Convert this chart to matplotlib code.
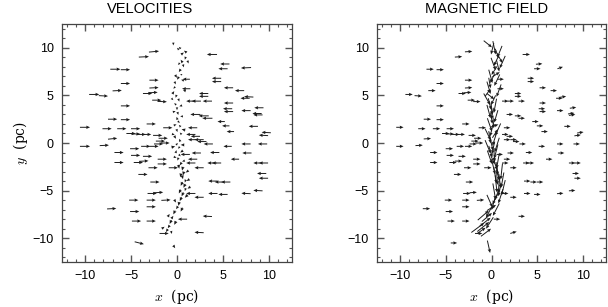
import matplotlib
matplotlib.use("Agg")
import matplotlib.pyplot as plt
from matplotlib.ticker import MultipleLocator

# positions (pc) of the clumps away from the filament
x_out = [-2.5, -3.6, 3.8, -6.7, -5.6, 5.2, 5.0, 7.5, -2.5, -5.6, -2.5, 4.3, 4.3, 1.0, 5.6, 6.8,
         -6.5, -9.0, -8.0, -3.2, -2.6, 1.0, 2.9, 2.9, 7.8, 7.4, -2.2, -1.6, 1.5, 2.1, 3.3, 5.6,
         8.9, -5.6, 5.5, 5.6, 7.5, 8.7, 8.8, 2.0, 2.9, 3.3, -7.0, -5.6, -2.8, 4.8, 5.3, 1.7,
         -1.0, -10.0, -7.6, -6.0, -4.5, 8.3, 5.8, 9.7, 9.4, -7.0, -5.0, -4.5, -3.9, -3.3, -2.1,
         -1.5, -1.8, -1.3, -2.0, 1.5, 2.0, 1.7, 2.4, 2.7, 3.4, 7.5, 9.3, -10.0, -7.9, -4.6,
         -3.4, -2.5, 5.5, -6.3, -4.5, -3.2, 0.9, 2.1, 4.1, 7.6, -1.6, 1.7, 6.3, -6.3, -4.2,
         -3.6, -1.6, 1.5, 3.8, 4.3, 8.8, 9.4, -2.6, -0.4, 2.4, 9.2, 9.4, -3.7, 3.9, 4.6, 5.3,
         -2.4, -2.7, -2.0, 3.9, 5.0, 7.5, 8.8, 1.5, -4.7, -2.8, -1.2, 2.4, -2.8, -7.1, -4.6,
         3.3, 0.6, -4.4, -2.8, 2.4, -1.4, -4.1]
y_out = [9.6, 9.05, 9.3, 7.75, 7.7, 8.3, 7.8, 7.9, 6.6, 6.25, 5.8, 6.8, 6.45, 6.7, 5.8, 5.5,
         5.5, 5.1, 4.95, 5.2, 5.3, 5.7, 5.2, 4.9, 4.85, 4.7, 4.5, 4.35, 4.4, 4.4, 4.4, 4.2,
         3.7, 3.9, 3.6, 3.3, 3.4, 3.1, 2.95, 3.0, 2.85, 2.6, 2.5, 2.45, 2.0, 2.25, 1.8, 1.6,
         1.6, 1.65, 1.5, 1.5, 1.5, 1.75, 1.2, 1.1, 0.8, 0.45, 1.0, 0.95, 0.9, 0.9, 0.8,
         0.5, 0.2, 0.0, -0.1, 0.9, 0.7, 0.35, 0.35, 0.15, -0.1, -0.1, -0.1, -0.35, -0.25, -0.6,
         -0.35, -0.35, -0.35, -1.0, -1.3, -1.4, -1.2, -1.05, -1.0, -1.05, -1.7, -1.7, -1.7, -2.05, -2.05,
         -1.9, -2.2, -2.1, -2.1, -2.1, -2.1, -2.1, -2.6, -2.6, -2.6, -3.2, -3.7, -3.3, -4.0, -4.1, -4.1,
         -4.1, -5.3, -5.2, -5.3, -5.4, -5.3, -5.0, -5.3, -6.0, -6.0, -6.0, -5.7, -6.7, -6.9, -7.2,
         -7.7, -8.0, -8.2, -8.2, -9.4, -9.5, -10.5]
vx_out = [1.1, 1.1, -1.1, 1.1, 1.0, -1.0, -1.0, -1.1, 1.0, 1.0, 1.0, -1.0, -1.0, -0.8, -1.0, -1.0,
          1.0, 1.1, 1.0, 1.0, 1.0, -0.9, -1.0, -1.0, -1.0, -1.0, 1.0, 1.0, -1.0, -1.0, -1.0, -1.0,
          -1.0, 1.0, -1.0, -1.0, -1.0, -1.0, -1.0, -1.1, -1.1, -1.1, 1.0, 1.0, 1.0, -0.8, -0.8, -1.0,
          1.0, 1.1, 1.0, 1.0, 1.0, -1.0, -0.8, -1.0, -1.0, 1.0, 1.0, 1.0, 1.0, 1.0, 1.0,
          1.0, 1.0, 1.0, 1.0, -1.0, -1.0, -1.0, -1.0, -1.0, -1.0, -1.0, -1.0, 1.1, 1.0, 1.0,
          1.0, 1.0, -0.9, 1.0, 1.0, 1.0, -1.0, -1.0, -1.0, -1.0, 1.0, -1.0, -0.9, 1.0, 1.0,
          1.0, 1.0, -1.0, -1.0, -1.0, -1.0, -1.0, 1.0, 1.0, -1.0, -1.0, -1.0, 1.0, -1.0, -1.0, -1.0,
          1.0, 1.0, 1.0, -1.0, -1.0, -1.0, -1.0, -1.0, 1.0, 1.0, 1.0, -1.0, 1.0, 1.0, 1.0,
          -1.0, -1.0, 1.0, 1.0, -1.0, 1.0, 1.0]
vy_out = [0.1, 0.05, 0.0, 0.0, 0.0, 0.0, 0.0, -0.05, 0.0, 0.0, 0.05, 0.0, 0.0, 0.0, 0.0, 0.0,
          0.05, 0.0, -0.05, 0.0, 0.05, 0.0, 0.0, 0.0, 0.05, 0.0, 0.0, -0.05, 0.0, 0.0, 0.0, 0.0,
          0.0, 0.0, 0.0, 0.0, 0.0, 0.0, 0.0, 0.0, 0.0, 0.0, 0.0, 0.0, 0.0, 0.0, 0.0, 0.0,
          0.0, 0.0, 0.0, 0.0, 0.0, 0.0, 0.0, 0.05, 0.05, 0.1, 0.0, 0.0, 0.0, 0.0, 0.0,
          0.0, 0.0, 0.0, 0.0, 0.0, 0.0, 0.0, 0.0, 0.0, 0.0, 0.0, 0.0, 0.0, 0.05, 0.0,
          0.0, 0.0, 0.0, 0.0, 0.0, 0.0, 0.0, 0.0, 0.0, 0.0, 0.0, 0.0, 0.0, 0.0, 0.0,
          0.05, 0.0, 0.0, 0.0, 0.0, 0.0, 0.0, 0.0, 0.0, 0.0, 0.0, 0.0, 0.0, 0.0, 0.0, 0.0,
          0.0, 0.0, 0.05, 0.0, 0.0, 0.05, 0.05, 0.0, 0.0, 0.0, 0.05, 0.0, 0.0, 0.05, 0.0,
          0.05, 0.0, 0.0, 0.0, 0.05, 0.0, -0.25]
bx_out = [0.8, 0.8, 0.8, 0.8, 0.8, 0.7, 0.7, 0.6, 0.8, 0.8, 0.8, 0.7, 0.7, 0.7, 0.7, 0.7,
          0.8, 0.8, 0.8, 0.8, 0.8, 0.7, 0.7, 0.7, 0.7, 0.7, 0.8, 0.8, 0.7, 0.7, 0.7, 0.7,
          0.7, 0.8, 0.7, 0.7, 0.7, 0.7, 0.7, 0.7, 0.7, 0.7, 0.8, 0.8, 0.8, 0.7, 0.7, 0.7,
          0.8, 0.8, 0.8, 0.8, 0.8, 0.7, 0.7, 0.7, 0.7, 0.8, 0.8, 0.8, 0.8, 0.8, 0.8,
          0.8, 0.8, 0.8, 0.8, 0.7, 0.7, 0.7, 0.7, 0.7, 0.7, 0.7, 0.7, 0.8, 0.8, 0.8,
          0.8, 0.8, 0.7, 0.8, 0.8, 0.8, 0.7, 0.7, 0.7, 0.7, 0.8, 0.7, 0.7, 0.8, 0.8,
          0.8, 0.8, 0.7, 0.7, 0.7, 0.7, 0.7, 0.8, 0.8, 0.7, 0.7, 0.7, 0.8, 0.7, 0.7, 0.7,
          0.8, 0.8, 0.8, 0.7, 0.7, 0.7, 0.7, 0.7, 0.8, 0.8, 0.8, 0.7, 0.8, 0.8, 0.8,
          0.7, 0.7, 0.8, 0.8, 0.7, 0.8, 0.7]
by_out = [0.05, 0.05, 0.0, 0.0, 0.0, 0.05, 0.0, 0.2, 0.0, 0.0, 0.05, 0.0, 0.0, 0.0, 0.0, 0.0,
          0.0, 0.0, -0.05, 0.0, 0.05, 0.0, 0.0, 0.0, 0.1, 0.0, 0.0, 0.0, 0.0, 0.0, 0.0, 0.0,
          0.1, 0.0, 0.0, 0.0, 0.0, 0.1, 0.1, 0.0, 0.0, 0.0, 0.0, 0.0, 0.0, 0.0, 0.0, 0.0,
          0.0, 0.0, 0.0, 0.0, 0.0, 0.0, 0.0, 0.1, 0.1, 0.05, 0.0, 0.0, 0.0, 0.0, 0.0,
          0.0, 0.0, 0.0, 0.0, 0.0, 0.0, 0.0, 0.0, 0.0, 0.0, 0.0, 0.0, 0.0, 0.05, 0.0,
          0.0, 0.0, 0.0, 0.0, 0.0, 0.0, 0.0, 0.0, 0.0, 0.0, 0.0, 0.0, 0.0, 0.0, 0.0,
          0.0, 0.0, 0.0, 0.0, 0.0, 0.0, 0.0, 0.0, 0.0, 0.0, 0.0, 0.0, 0.0, 0.0, 0.0, 0.0,
          0.0, 0.0, 0.05, 0.0, 0.0, 0.05, 0.05, 0.0, 0.0, 0.0, 0.05, 0.0, 0.0, 0.0, 0.0,
          0.0, 0.0, 0.0, 0.0, 0.2, 0.0, 0.0]

# clumps along the central filament
x_fil = [-0.4, 0.1, 0.6, 0.9, 0.5, 0.7, 0.3, 0.5, 0.1, -0.2, -0.3, -0.4, -0.1, 0.2, -0.2, 0.0,
         0.1, 0.0, 0.2, 0.3, 0.0, 0.4, -0.2, 0.3, 0.0, 0.2, -0.1, 0.3, 0.1, 0.4, 0.6, 0.7,
         0.6, 0.9, 0.8, 0.9, 0.6, 0.4, 0.2, 0.0, -0.3, -0.5, -0.7, -0.9, -1.1, -0.3,
         0.3, 0.9, 1.2, 0.2, -0.1, 0.6, 0.8, -0.5, 0.4, -0.3, 0.5, -0.2, 0.7, -0.4, 0.6, -0.4,
         0.5, -0.2, 0.7, 0.2, 1.1, 0.4, 1.2, 0.5, 1.3, 0.3, 1.0, -0.2, 0.5, -0.9, -0.2, -1.5, -0.6]
y_fil = [10.4, 9.9, 9.4, 8.9, 8.6, 8.1, 7.6, 7.2, 6.8, 6.3, 5.8, 5.3, 4.9, 4.5, 4.1, 3.6,
         3.1, 2.6, 2.2, 1.8, 1.3, 1.0, 0.6, 0.3, -0.1, -0.5, -0.9, -1.3, -1.7, -2.2, -2.7, -3.2,
         -3.6, -4.0, -4.5, -4.9, -5.4, -5.9, -6.4, -6.8, -7.3, -7.8, -8.3, -8.8, -9.2, -10.9,
         10.0, 9.6, 8.5, 8.3, 7.0, 6.6, 5.5, 4.6, 3.9, 3.3, 2.8, 1.9, 1.4, 0.9, -0.2, -0.4,
         -0.9, -1.5, -1.9, -2.5, -3.0, -3.4, -3.9, -4.3, -4.7, -5.1, -5.6, -6.1, -7.0, -7.6, -8.4, -8.9, -9.4]
vx_fil = [0.0, -0.2, 0.3, -0.1, -0.2, 0.1, -0.2, 0.2, -0.2, 0.1, -0.2, 0.2, -0.1, 0.1, -0.2, 0.0,
          0.1, -0.1, 0.2, -0.2, 0.1, -0.2, 0.2, -0.1, 0.2, -0.2, 0.1, 0.2, -0.1, -0.2, -0.1, -0.1,
          0.1, -0.1, -0.2, -0.1, -0.2, -0.2, -0.1, -0.2, -0.2, 0.2, -0.2, -0.2, -0.2, 0.2,
          -0.2, -0.3, 0.1, -0.2, 0.2, -0.3, -0.3, 0.2, -0.3, 0.3, -0.3, 0.3, -0.4, 0.3, -0.4, 0.4,
          -0.3, 0.3, -0.3, 0.1, -0.3, -0.1, -0.3, -0.2, -0.3, -0.2, -0.3, 0.2, -0.2, 0.2, -0.2, 0.3, 0.1]
vy_fil = [-0.3, 0.2, 0.2, -0.3, 0.3, -0.3, -0.3, 0.1, -0.3, -0.3, -0.2, 0.3, -0.3, -0.3, 0.2, -0.3,
          -0.3, 0.3, -0.2, 0.2, -0.3, 0.2, -0.3, 0.3, 0.2, -0.2, 0.3, -0.2, -0.3, -0.3, -0.4, -0.4,
          -0.4, -0.3, -0.4, -0.3, -0.4, -0.4, -0.4, -0.3, -0.4, 0.3, -0.4, -0.3, -0.3, -0.3,
          0.2, 0.2, -0.3, -0.2, -0.3, 0.1, 0.1, -0.2, -0.1, 0.1, 0.0, 0.1, 0.1, -0.1, 0.0, 0.1,
          -0.2, -0.1, -0.1, -0.4, -0.2, -0.4, -0.2, -0.4, -0.2, -0.4, -0.3, -0.3, -0.4, 0.3, -0.4, 0.2, -0.3]
bx_fil = [0.9, -0.3, 0.4, 0.6, -0.5, 0.3, -0.6, 0.8, -0.5, 0.2, 0.4, 0.6, 0.8, -0.5, 0.3, 0.1,
          -0.2, 0.2, 0.1, 0.9, -0.3, 0.6, 0.2, -0.4, 0.3, -0.3, 0.4, 0.1, 0.5, 0.4, 0.2, 0.3,
          0.1, 0.2, -0.1, -0.3, -0.5, -0.6, -0.4, 1.0, -0.6, 1.1, 1.2, 1.3, 0.9, 0.3,
          0.3, -0.5, -0.6, 0.5, 0.4, -0.6, -0.5, 0.7, -0.3, 0.4, -0.4, 0.5, -0.6, 0.6, -0.5, 0.6,
          -0.4, 0.5, -0.3, 0.4, -0.2, 0.3, -0.3, 0.2, -0.4, 0.3, -0.5, 0.6, -0.7, 1.2, -0.8, 1.4, 1.1]
by_fil = [-0.7, -1.2, -1.0, -1.0, -1.0, -1.2, -0.9, 0.5, -1.0, -1.1, -1.3, 0.8, -0.6, -1.0, -1.2, -1.3,
          -1.2, -1.2, -1.3, 0.3, -1.2, 0.9, -1.3, -1.2, -1.4, -1.3, -1.2, -1.4, -1.1, -1.3, -1.4, -1.5,
          -1.6, -1.5, -1.6, -1.4, -1.2, -1.1, -1.3, 0.6, -1.1, 0.9, 0.9, 1.0, 0.6, -1.3,
          -1.4, -1.2, -1.3, -1.3, -1.4, -1.2, -1.3, -1.2, -1.5, -1.4, -1.3, -1.4, -1.3, -1.2, -1.5, -1.4,
          -1.5, -1.4, -1.6, -1.6, -1.7, -1.7, -1.6, -1.8, -1.6, -1.7, -1.5, -1.3, -1.3, 1.0, -1.2, 1.0, 0.8]

titles = ["VELOCITIES", "MAGNETIC FIELD"]
ticks = [-10, -5, 0, 5, 10]

plt.rcParams["mathtext.fontset"] = "cm"

fig = plt.figure(figsize=(6.08, 3.07), dpi=100)
ax1 = fig.add_axes([62/608, 45/307, 230/608, 238/307])
ax2 = fig.add_axes([377/608, 45/307, 229/608, 238/307])

qkw = dict(angles="xy", scale_units="xy", scale=1, pivot="mid", width=0.0042,
           headwidth=3.5, headlength=4, headaxislength=3.6, color="#1a1a1a")

ax1.quiver(x_out, y_out, vx_out, vy_out, **qkw)
ax1.quiver(x_fil, y_fil, vx_fil, vy_fil, **qkw)
ax2.quiver(x_out, y_out, bx_out, by_out, **qkw)
ax2.quiver(x_fil, y_fil, bx_fil, by_fil, **qkw)

for ax in (ax1, ax2):
    ax.set_xlim(-12.5, 12.5)
    ax.set_ylim(-12.5, 12.5)
    ax.set_xticks(ticks)
    ax.set_yticks(ticks)
    ax.xaxis.set_minor_locator(MultipleLocator(1))
    ax.yaxis.set_minor_locator(MultipleLocator(1))
    ax.tick_params(which="both", direction="in", top=True, right=True, color="#555555",
                   labelsize=9, pad=6)
    ax.tick_params(which="major", length=5, width=1)
    ax.tick_params(which="minor", length=2.5, width=0.8)
    for s in ax.spines.values():
        s.set_color("#444444")
        s.set_linewidth(0.9)
    for lab in ax.get_xticklabels() + ax.get_yticklabels():
        lab.set_family("Liberation Sans")
    ax.set_xlabel(r"$x$  (pc)", family="DejaVu Serif", fontsize=10, labelpad=3)
    ax.set_ylabel(r"$y$  (pc)", family="DejaVu Serif", fontsize=10, labelpad=2)

ax2.set_ylabel("")

fig.text(150/608, 1 - 9/307, titles[0], ha="center", va="center", fontsize=10.5,
         family="Liberation Sans")
fig.text(487/608, 1 - 9/307, titles[1], ha="center", va="center", fontsize=10.5,
         family="Liberation Sans")

fig.savefig("out.png", dpi=100)
